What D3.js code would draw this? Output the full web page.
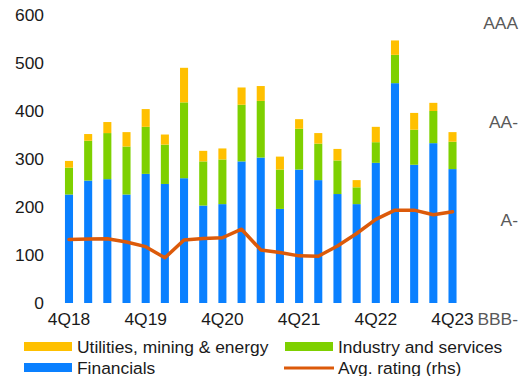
<!DOCTYPE html>
<html><head><meta charset="utf-8">
<script src="https://cdn.jsdelivr.net/npm/d3@7"></script>
<style>
html,body{margin:0;padding:0;background:#fff;}
svg{display:block;font-family:"Liberation Sans",Arial,sans-serif;}
</style></head>
<body><svg id="c" width="524" height="376"></svg>
<script>
const quarters = ["4Q18","1Q19","2Q19","3Q19","4Q19","1Q20","2Q20","3Q20","4Q20","1Q21","2Q21","3Q21","4Q21","1Q22","2Q22","3Q22","4Q22","1Q23","2Q23","3Q23","4Q23"];
const financials = [226,255,258,226,269,248,260,203,206,295,303,196,278,256,227,206,292,458,288,333,279];
const industry   = [56,83,96,100,98,82,158,92,93,118,118,82,85,76,70,35,43,59,73,67,57];
const utilities  = [14,14,23,30,37,21,72,22,23,36,31,27,20,22,24,15,32,30,35,17,20];
// average rating in notches above BBB- (BBB-=0, A-=3, AA-=6, AAA=9)
const avgRating  = [2.42,2.43,2.44,2.34,2.20,1.86,2.40,2.45,2.47,2.73,2.10,2.02,1.92,1.91,2.22,2.60,3.03,3.31,3.31,3.17,3.26];
const leftTicks = [0,100,200,300,400,500,600];
const ratingTicks = [0,3,6,9];
const ratingLabels = ["BBB-","A-","AA-","AAA"];
const xTickLabels = ["4Q18","4Q19","4Q20","4Q21","4Q22","4Q23"];

const colors = {util:"#FFC000", ind:"#7ED000", fin:"#0A80FF", line:"#DC5A0A"};
const FS = "17.4px";
const svg = d3.select("#c");

const x = d3.scaleBand().domain(quarters).range([59.4,462.1]).paddingInner(0.58).paddingOuter(0.29);
const y = d3.scaleLinear().domain([0,600]).range([303,15]);
const yr = d3.scaleLinear().domain([0,9]).range([319,23]);

const stackData = quarters.map((q,i)=>({q, fin:financials[i], ind:industry[i], util:utilities[i]}));
const stacked = d3.stack().keys(["fin","ind","util"])(stackData);

svg.append("g").selectAll("g").data(stacked).join("g")
  .attr("fill", d=>colors[d.key])
  .selectAll("rect").data(d=>d).join("rect")
  .attr("x", d=>x(d.data.q))
  .attr("width", x.bandwidth())
  .attr("y", d=>y(d[1]))
  .attr("height", d=>y(d[0])-y(d[1]));

// line
const line = d3.line().x((d,i)=>x(quarters[i])+x.bandwidth()/2).y(d=>yr(d));
svg.append("path").datum(avgRating)
  .attr("d", line).attr("fill","none")
  .attr("stroke", colors.line).attr("stroke-width",3.5)
  .attr("stroke-linejoin","round").attr("stroke-linecap","round");

// left axis
const ga = svg.append("g").attr("transform","translate(44,0)")
  .call(d3.axisLeft(y).tickValues(leftTicks).tickSize(0).tickPadding(0));
ga.select(".domain").remove();
ga.selectAll("text").attr("font-size",FS).attr("fill","#1a1a1a").attr("font-family","Liberation Sans, Arial, sans-serif");

// right axis
const gr = svg.append("g").attr("transform","translate(518,0)")
  .call(d3.axisRight(yr).tickValues(ratingTicks).tickFormat((d,i)=>ratingLabels[i]).tickSize(0).tickPadding(0));
gr.select(".domain").remove();
gr.selectAll("text").attr("text-anchor","end").attr("font-size",FS).attr("fill","#595959").attr("font-family","Liberation Sans, Arial, sans-serif");

// x axis
const gx = svg.append("g").attr("transform","translate(0,313)")
  .call(d3.axisBottom(x).tickValues(xTickLabels).tickSize(0).tickPadding(0));
gx.select(".domain").remove();
gx.selectAll("text").attr("font-size",FS).attr("fill","#1a1a1a").attr("font-family","Liberation Sans, Arial, sans-serif");

// legend
const legend = [
  {label:"Utilities, mining & energy", color:colors.util, type:"bar", x:24, y:347},
  {label:"Industry and services", color:colors.ind, type:"bar", x:285, y:347},
  {label:"Financials", color:colors.fin, type:"bar", x:24, y:368},
  {label:"Avg. rating (rhs)", color:colors.line, type:"line", x:284, y:368}
];
const lg = svg.append("g").selectAll("g").data(legend).join("g")
  .attr("transform", d=>`translate(${d.x},${d.y})`);
lg.filter(d=>d.type==="bar").append("rect").attr("x",0).attr("y",-5).attr("width",48).attr("height",9).attr("fill",d=>d.color);
lg.filter(d=>d.type==="line").append("line").attr("x1",0).attr("x2",50).attr("y1",0).attr("y2",0).attr("stroke",d=>d.color).attr("stroke-width",3);
lg.append("text").attr("x",d=>d.type==="bar"?53:54).attr("y",0).attr("dy","0.35em")
  .attr("font-size",FS).attr("fill","#1a1a1a").text(d=>d.label);
</script></body></html>
